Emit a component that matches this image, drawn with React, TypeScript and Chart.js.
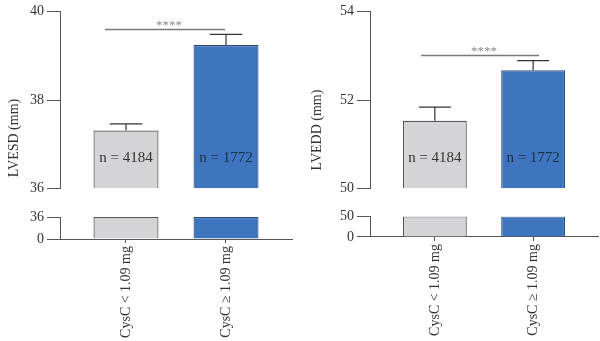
import React, { useEffect, useRef } from 'react';
import { Chart, registerables } from 'chart.js';
Chart.register(...registerables);

// ---- data ----
const categories = ['CysC < 1.09 mg', 'CysC \u2265 1.09 mg'];
const groupCounts = ['n = 4184', 'n = 1772'];
const categoryX = [1, 2];

const lvesdMeans = [37.31, 39.24];
const lvesdErrTop = [37.46, 39.48];
const lvesdBreak = 36;
const lvesdTopRange = [36, 40];
const lvesdTopTicks = [36, 38, 40];
const lvesdBottomTicks = [0, 36];
const lvesdBracketX = [0.79, 1.99];
const lvesdBracketY = 39.6;

const lveddMeans = [51.53, 52.67];
const lveddErrTop = [51.84, 52.89];
const lveddBreak = 50;
const lveddTopRange = [50, 54];
const lveddTopTicks = [50, 52, 54];
const lveddBottomTicks = [0, 50];
const lveddBracketX = [0.86, 2.06];
const lveddBracketY = 53.02;

const sigLabel = '****';

// ---- styles ----
const FONT = "'Liberation Serif', 'DejaVu Serif', serif";
const AXIS = '#555555';
const TEXT = '#333333';
const FILLS = ['#d4d4d6', '#3f74be'];
const BORDERS = ['#555555', '#2a4b7e'];
const X_RANGE = [0.34, 2.66];

type PanelProps = {
  left: number;
  title: string;
  titlePos: [number, number];
  axisWidth: number;
  padRight: number;
  means: number[];
  errTop: number[];
  brk: number;
  topRange: number[];
  topTicks: number[];
  bottomTicks: number[];
  bracketX: number[];
  bracketY: number;
  topPad: [number, number];
  bottomPad: [number, number];
};

const TOP_H = 200;
const BOT_TOP = 205;
const BOT_H = 136;

function xScaleOpts(display: boolean, xHeight?: number) {
  return {
    type: 'linear' as const,
    min: X_RANGE[0],
    max: X_RANGE[1],
    offset: false,
    display,
    afterBuildTicks: (s: any) => {
      s.ticks = categoryX.map((v) => ({ value: v }));
    },
    afterFit: (s: any) => {
      if (xHeight !== undefined) s.height = xHeight;
    },
    grid: { offset: false, drawOnChartArea: false, tickLength: 4, color: AXIS, lineWidth: 1 },
    border: { color: AXIS, width: 1 },
    ticks: {
      autoSkip: false,
      minRotation: 90,
      maxRotation: 90,
      padding: 3,
      color: TEXT,
      font: { family: FONT, size: 14 },
      callback: (v: any) => {
        const i = categoryX.indexOf(Number(v));
        return i >= 0 ? categories[i] : '';
      },
    },
  };
}

function yScaleOpts(min: number, max: number, ticks: number[], width: number) {
  return {
    min,
    max,
    afterBuildTicks: (s: any) => {
      s.ticks = ticks.map((v) => ({ value: v }));
    },
    afterFit: (s: any) => {
      s.width = width;
    },
    grid: { drawOnChartArea: false, tickLength: 13, color: AXIS, lineWidth: 1 },
    border: { color: AXIS, width: 1 },
    ticks: { padding: 3, color: TEXT, font: { family: FONT, size: 14 } },
  };
}

function Panel(p: PanelProps) {
  const topRef = useRef<HTMLCanvasElement>(null);
  const botRef = useRef<HTMLCanvasElement>(null);

  useEffect(() => {
    const topCanvas = topRef.current!;
    const botCanvas = botRef.current!;

    const topPlugin = {
      id: 'topDecor',
      afterDatasetsDraw(chart: any) {
        const ctx = chart.ctx;
        const xs = chart.scales.x;
        const ys = chart.scales.y;
        const meta = chart.getDatasetMeta(0);
        ctx.save();
        // error bars
        ctx.strokeStyle = '#333333';
        ctx.lineWidth = 1.2;
        p.means.forEach((m, i) => {
          const bar = meta.data[i];
          const x = xs.getPixelForValue(categoryX[i]);
          const y0 = ys.getPixelForValue(m);
          const y1 = ys.getPixelForValue(p.errTop[i]);
          const half = bar.width * 0.25;
          ctx.beginPath();
          ctx.moveTo(x, y0);
          ctx.lineTo(x, y1);
          ctx.moveTo(x - half, y1);
          ctx.lineTo(x + half, y1);
          ctx.stroke();
        });
        // n labels
        ctx.font = `15px ${FONT}`;
        ctx.textAlign = 'center';
        ctx.textBaseline = 'middle';
        groupCounts.forEach((t, i) => {
          const x = xs.getPixelForValue(categoryX[i]);
          const yb = ys.getPixelForValue(p.brk);
          ctx.fillStyle = i === 0 ? '#333333' : '#1c2c47';
          ctx.fillText(t, x, yb - 31);
        });
        // significance bracket
        const bx0 = xs.getPixelForValue(p.bracketX[0]);
        const bx1 = xs.getPixelForValue(p.bracketX[1]);
        const by = Math.round(ys.getPixelForValue(p.bracketY)) + 0.5;
        ctx.strokeStyle = '#7a7a7a';
        ctx.lineWidth = 1.5;
        ctx.beginPath();
        ctx.moveTo(bx0, by);
        ctx.lineTo(bx1, by);
        ctx.stroke();
        ctx.fillStyle = '#8a8a8a';
        ctx.font = `13px ${FONT}`;
        ctx.textBaseline = 'alphabetic';
        ctx.fillText(sigLabel, (bx0 + bx1) / 2 + 4, by - 1);
        // y axis title
        ctx.save();
        ctx.translate(p.titlePos[0], p.titlePos[1]);
        ctx.rotate(-Math.PI / 2);
        ctx.fillStyle = TEXT;
        ctx.font = `14px ${FONT}`;
        ctx.textBaseline = 'middle';
        ctx.textAlign = 'center';
        ctx.fillText(p.title, 0, 0);
        ctx.restore();
        ctx.restore();
      },
    };

    const top = new Chart(topCanvas, {
      type: 'bar',
      data: {
        datasets: [
          {
            data: p.means.map((v, i) => ({ x: categoryX[i], y: v })),
            base: p.brk,
            backgroundColor: FILLS,
            borderColor: BORDERS,
            borderWidth: { top: 1.2, left: 1.2, right: 1.2, bottom: 0 },
            borderSkipped: false,
            barPercentage: 0.65,
            categoryPercentage: 1,
          } as any,
        ],
      },
      options: {
        animation: false,
        responsive: false,
        maintainAspectRatio: false,
        layout: { padding: { top: p.topPad[0], bottom: p.topPad[1], left: 0, right: p.padRight } },
        plugins: { legend: { display: false }, tooltip: { enabled: false } },
        scales: {
          x: xScaleOpts(false) as any,
          y: yScaleOpts(p.topRange[0], p.topRange[1], p.topTicks, p.axisWidth) as any,
        },
      },
      plugins: [topPlugin],
    });

    const xHeight = BOT_H - p.bottomPad[1];
    const bot = new Chart(botCanvas, {
      type: 'bar',
      data: {
        datasets: [
          {
            data: p.means.map((_, i) => ({ x: categoryX[i], y: p.brk })),
            backgroundColor: FILLS,
            borderColor: BORDERS,
            borderWidth: { top: 1.2, left: 1.2, right: 1.2, bottom: 0 },
            borderSkipped: false,
            barPercentage: 0.65,
            categoryPercentage: 1,
          } as any,
        ],
      },
      options: {
        animation: false,
        responsive: false,
        maintainAspectRatio: false,
        layout: { padding: { top: p.bottomPad[0], bottom: 0, left: 0, right: p.padRight } },
        plugins: { legend: { display: false }, tooltip: { enabled: false } },
        scales: {
          x: xScaleOpts(true, xHeight) as any,
          y: yScaleOpts(0, p.brk, p.bottomTicks, p.axisWidth) as any,
        },
      },
    });

    return () => {
      top.destroy();
      bot.destroy();
    };
  }, []);

  return (
    <>
      <canvas
        ref={topRef}
        width={300}
        height={TOP_H}
        style={{ position: 'absolute', left: p.left, top: 0, width: 300, height: TOP_H }}
      />
      <canvas
        ref={botRef}
        width={300}
        height={BOT_H}
        style={{ position: 'absolute', left: p.left, top: BOT_TOP, width: 300, height: BOT_H }}
      />
    </>
  );
}

export default function App() {
  return (
    <div style={{ position: 'fixed', left: 0, top: 0, width: 600, height: 341, background: '#ffffff', overflow: 'hidden' }}>
      <Panel
        left={0}
        title="LVESD (mm)"
        titlePos={[14, 138]}
        axisWidth={60}
        padRight={8}
        means={lvesdMeans}
        errTop={lvesdErrTop}
        brk={lvesdBreak}
        topRange={lvesdTopRange}
        topTicks={lvesdTopTicks}
        bottomTicks={lvesdBottomTicks}
        bracketX={lvesdBracketX}
        bracketY={lvesdBracketY}
        topPad={[8, 6]}
        bottomPad={[12, 34]}
      />
      <Panel
        left={300}
        title="LVEDD (mm)"
        titlePos={[17, 130]}
        axisWidth={70}
        padRight={2}
        means={lveddMeans}
        errTop={lveddErrTop}
        brk={lveddBreak}
        topRange={lveddTopRange}
        topTicks={lveddTopTicks}
        bottomTicks={lveddBottomTicks}
        bracketX={lveddBracketX}
        bracketY={lveddBracketY}
        topPad={[8, 8]}
        bottomPad={[10, 32]}
      />
    </div>
  );
}
